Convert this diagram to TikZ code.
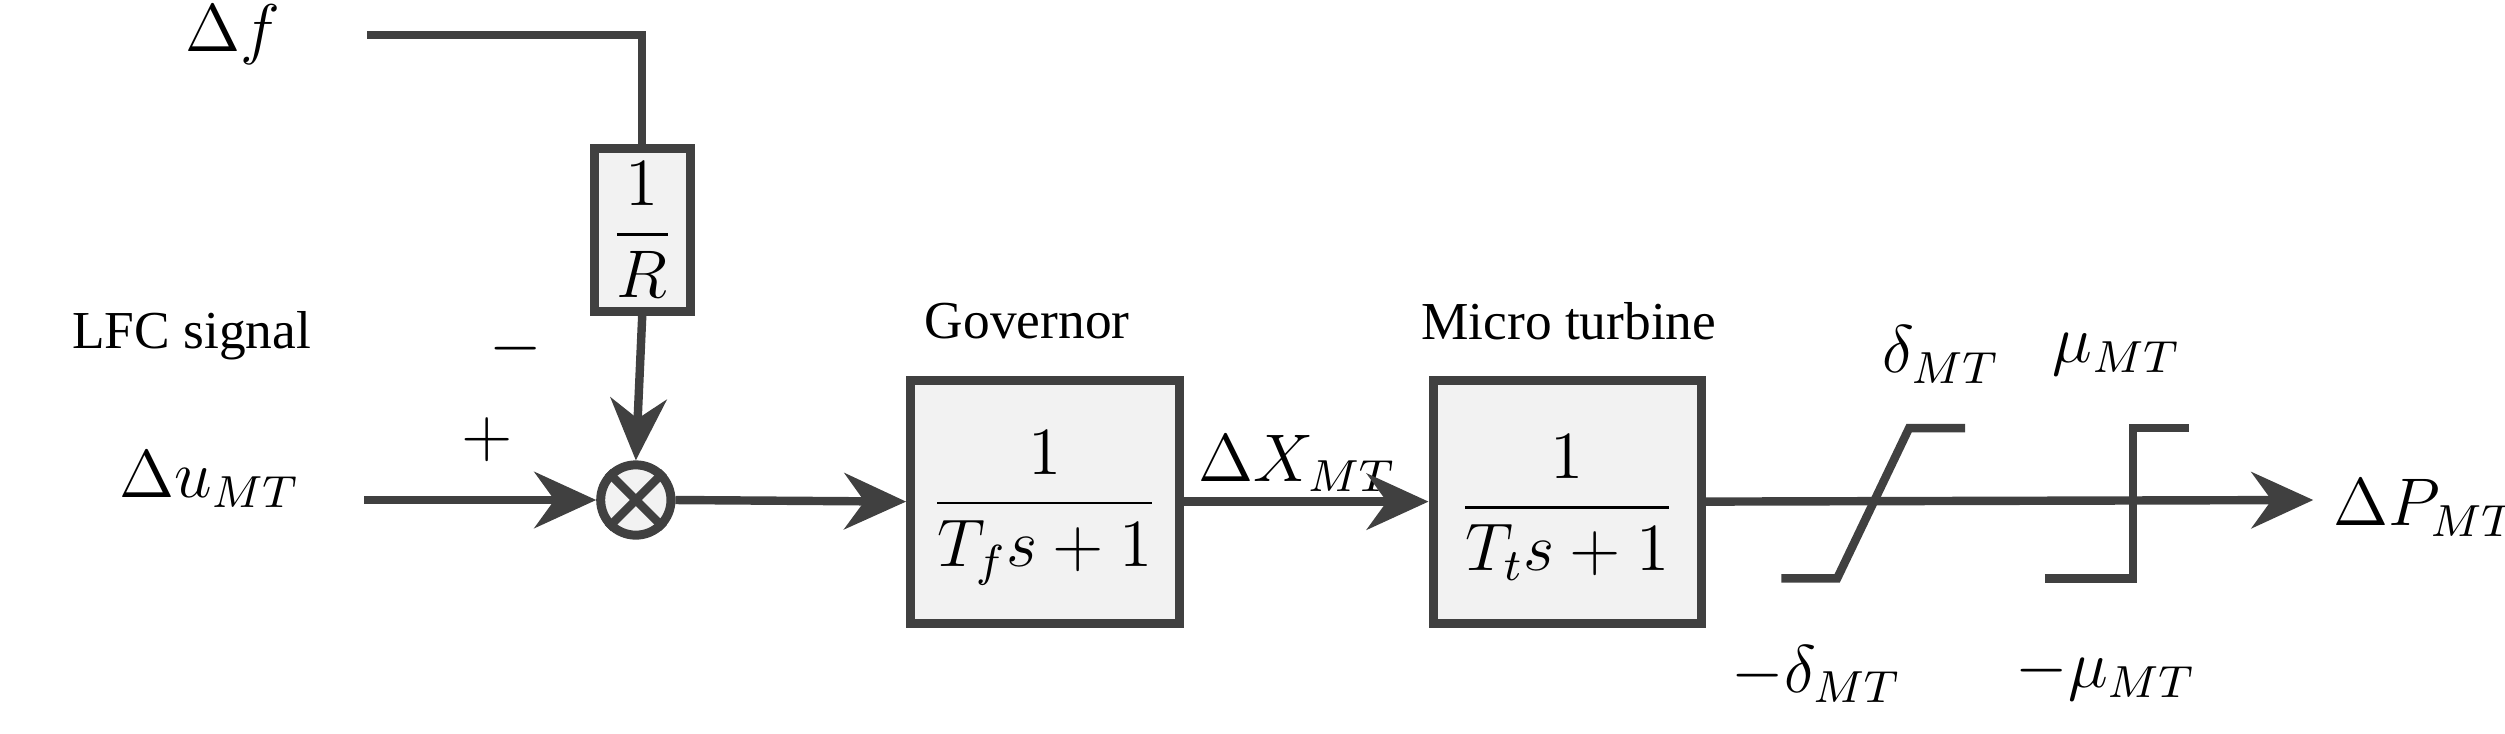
\documentclass[tikz,border=0pt]{standalone}
\usepackage{amsmath}
\usepackage{fontspec}
\setmainfont{Liberation Serif}
\usetikzlibrary{arrows.meta}
\begin{document}
\begin{tikzpicture}[x=0.01cm,y=-0.01cm,
  ln/.style={line width=1.5pt,draw=black!75},
  arr/.style={ln,-{Stealth[length=11pt,width=10pt]}},
  blk/.style={draw=black!75,line width=1.6pt,fill=black!5,inner sep=0pt},
  lbl/.style={font=\fontsize{9.5}{11}\selectfont},
  mth/.style={font=\fontsize{12}{14}\selectfont}]
\useasboundingbox (0,0) rectangle (1568,459);
\node[blk,minimum width=60*0.01cm,minimum height=102*0.01cm] (R) at (402,144) {};
\node[mth] at (402,144) {$\dfrac{1}{R}$};
\node[blk,minimum width=168*0.01cm,minimum height=152*0.01cm] (G) at (654,314) {};
\node[mth] at (654,318) {$\dfrac{1}{T_f s+1}$};
\node[blk,minimum width=168*0.01cm,minimum height=152*0.01cm] (M) at (981,314) {};
\node[mth] at (981,318) {$\dfrac{1}{T_t s+1}$};
\node[circle,draw=black!75,line width=1.6pt,fill=black!5,minimum size=44*0.01cm,inner sep=0pt] (S) at (398,313) {};
\draw[ln] (S.north west) -- (S.south east) (S.north east) -- (S.south west);
\coordinate (fin) at (230,22);
\coordinate (uin) at (228,313);
\coordinate (out) at (1448,313);
\node[mth,anchor=east] (df) at (188,22) {$\Delta f$};
\node[mth,anchor=east] (du) at (200,300) {$\Delta u_{MT}$};
\node[lbl] (lfc) at (120,210) {LFC signal};
\node[lbl] (gl) at (643,201) {Governor};
\node[lbl] (ml) at (982,201) {Micro turbine};
\node[mth] (minus) at (323,218) {$-$};
\node[mth] (plus) at (305,275) {$+$};
\node[mth] (dx) at (812,290) {$\Delta X_{MT}$};
\node[mth,anchor=west] (dp) at (1448,318) {$\Delta P_{MT}$};
\node[mth] (d1) at (1215,222) {$\delta_{MT}$};
\node[mth] (d2) at (1137,422) {$-\delta_{MT}$};
\node[mth] (m1) at (1325,222) {$\mu_{MT}$};
\node[mth] (m2) at (1318,422) {$-\mu_{MT}$};
\draw[ln] (fin) -| (R.north);
\draw[arr] (R.south) -- (S.north);
\draw[arr] (uin) -- (S.west);
\draw[arr] (S.east) -- (G.west);
\draw[arr] (G.east) -- (M.west);
\draw[arr] (M.east) -- (out);
\draw[ln] (1115,362) -- (1150,362) -- (1195,268) -- (1230,268);
\draw[ln] (1280,362) -- (1335,362) -- (1335,268) -- (1370,268);
\end{tikzpicture}
\end{document}
